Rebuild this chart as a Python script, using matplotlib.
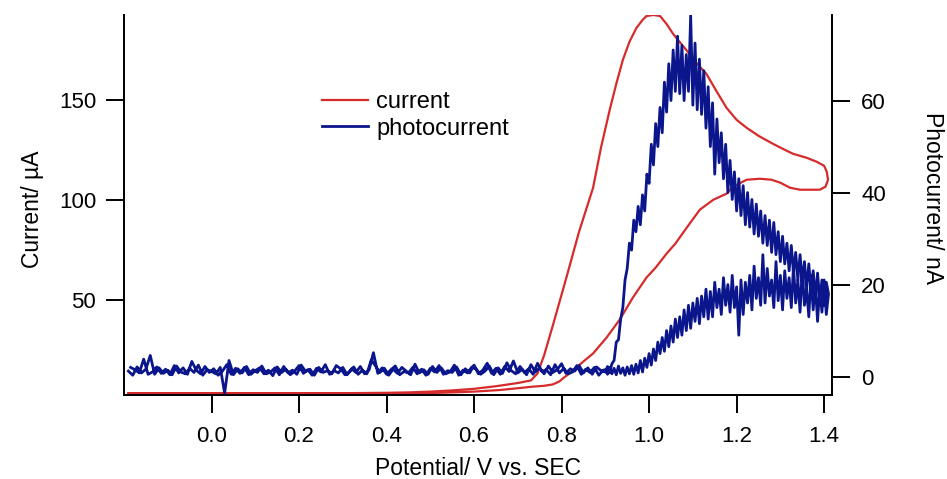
import numpy as np
import matplotlib.pyplot as plt

plt.rcParams['font.family'] = ['Liberation Sans', 'DejaVu Sans']

# cyclic voltammogram (current, uA) - one closed loop
cv_potential = [-0.19, -0.1, 0.0, 0.1, 0.2, 0.3, 0.4, 0.45, 0.5, 0.55, 0.6, 0.65, 0.7, 0.73,
                0.745, 0.76, 0.78, 0.811, 0.84, 0.872, 0.89, 0.91, 0.925, 0.94, 0.955, 0.971,
                0.985, 0.994, 1.01, 1.025, 1.04, 1.055, 1.07, 1.085, 1.11, 1.131, 1.155, 1.177,
                1.2, 1.223, 1.25, 1.283, 1.31, 1.329, 1.36, 1.383, 1.40, 1.406, 1.409, 1.403,
                1.39, 1.36, 1.345, 1.322, 1.30, 1.28, 1.253, 1.223, 1.205, 1.19, 1.177, 1.147,
                1.116, 1.086, 1.06, 1.04, 1.015, 0.994, 0.963, 0.933, 0.903, 0.872, 0.85, 0.834,
                0.815, 0.804, 0.795, 0.78, 0.76, 0.735, 0.70, 0.659, 0.6, 0.55, 0.5, 0.4, 0.3,
                0.2, 0.1, 0.0, -0.1, -0.19]
cv_current = [3.0, 3.0, 3.0, 3.0, 3.0, 3.1, 3.3, 3.5, 3.9, 4.5, 5.3, 6.6, 8.2, 9.5,
              13, 22, 37, 61, 84, 106, 126, 145, 158, 170, 179, 186,
              190, 192, 192.5, 192, 188, 183, 179, 175, 168, 163, 154, 146,
              140, 136, 132, 128, 125, 123, 121, 119, 117, 114, 110, 106.5,
              105, 105, 105, 106, 108.5, 110, 110.5, 110, 108, 106, 103, 100,
              95, 86, 78, 73, 66, 61, 51, 40, 31, 23, 19, 16,
              12.5, 10.7, 9, 7.5, 6.8, 6.4, 5.6, 4.7, 3.9, 3.5, 3.2, 3.0, 2.9,
              2.9, 2.9, 2.9, 2.9, 2.9]

# photocurrent (nA), four sweep segments
pc_base_fwd = [1.2, 0.3, 2.1, 0.8, 1.6, 4.6, 0.5, 1.9, 0.7, 1.4,
               0.4, 2.3, 1.0, 0.6, 1.8, 0.9, 2.5, 0.3, 1.5, 1.1,
               0.6, 2.0, -3.6, 3.5, 0.4, 1.7, 0.8, 2.2, 0.5, 1.3,
               1.9, 0.6, 1.4, 0.2, 2.1, 0.9, 1.6, 0.4, 1.2, 2.4,
               0.7, 1.5, 0.3, 1.8, 1.0, 2.6, 0.5, 1.3, 0.8, 2.0,
               0.4, 1.7, 0.9, 2.2, 0.6, 1.4, 5.2, 0.7, 1.9, 0.5,
               1.5, 2.3, 0.4, 1.1, 0.8, 2.0, 0.6, 1.6, 0.3, 1.8,
               1.0, 2.4, 0.5, 1.3, 0.9, 2.1, 0.4, 1.7, 0.8, 2.5,
               0.6, 1.4, 2.9, 0.7, 1.8, 0.5, 2.2, 1.1, 3.4, 0.8,
               1.6, 0.4, 2.6, 1.0, 1.9, 0.6, 2.3, 0.9, 1.5, 2.8,
               0.7, 1.7, 1.2, 2.4, 0.8, 1.9, 0.5, 2.1, 1.3, 1.0]
pc_peak_fwd = [1.0, 2.2, 0.9, 2.8, 3.5, 7.5, 8.0, 12.5, 15.0, 21.0,
               23.5, 29.0, 27.5, 34.0, 31.5, 37.0, 33.0, 39.5, 36.0, 44.0,
               42.0, 50.5, 46.0, 55.0, 50.0, 58.5, 53.0, 64.0, 57.5, 68.0,
               60.0, 71.0, 62.0, 74.0, 61.5, 72.0, 60.0, 70.0, 62.0, 78.5,
               59.0, 72.5, 58.0, 69.0, 57.0, 66.5, 54.0, 63.0, 50.0, 59.5,
               44.0, 56.0, 46.5, 53.0, 43.0, 50.5, 40.0, 47.0, 38.5, 44.5,
               36.0, 43.0, 35.0, 41.5, 33.0, 40.0, 32.5, 38.5, 31.0, 37.5,
               30.5, 36.0, 29.0, 35.0, 28.5, 34.0, 27.0, 33.5, 26.5, 31.5,
               25.0, 30.5, 24.5, 29.0, 23.0, 28.5, 22.5, 27.0, 21.0, 26.5,
               20.5, 25.0, 19.0, 24.5, 18.5, 23.0, 17.0, 22.5, 16.5, 21.0,
               15.5, 20.5, 18.0]
pc_low_rev = [18.0, 13.5, 21.0, 14.0, 19.5, 12.0, 20.0, 14.5, 22.0, 13.0,
              19.0, 15.5, 23.5, 14.0, 21.0, 16.0, 24.0, 15.0, 21.5, 17.0,
              23.0, 14.5, 22.0, 16.5, 25.0, 15.0, 21.0, 17.5, 23.5, 16.0,
              26.5, 15.5, 21.5, 17.0, 24.0, 14.5, 22.0, 16.0, 20.5, 13.5,
              21.0, 9.0, 19.5, 15.0, 22.0, 14.0, 20.0, 15.5, 21.5, 13.5,
              19.0, 15.0, 20.5, 13.0, 18.5, 12.5, 19.0, 13.0, 17.5, 11.5,
              17.0, 12.0, 16.0, 10.5, 15.5, 10.0, 14.5, 9.0, 13.0, 8.5,
              12.5, 7.5, 11.0, 6.5, 10.0, 5.5, 8.5, 5.0, 7.5, 3.5,
              6.0, 2.5, 5.0, 2.0, 4.0, 1.0, 3.5, 0.8, 2.7, 0.5,
              2.4, 0.6, 2.1, 0.3, 1.9, 0.7, 2.3, 0.4, 1.8, 0.6,
              2.0, 0.5, 1.5]
pc_base_rev = [1.4, 0.3, 2.0, 0.9, 1.6, 0.5, 2.4, 1.0, 0.6, 1.8,
               0.8, 2.6, 0.4, 1.5, 1.1, 2.9, 0.5, 1.7, 0.9, 2.2,
               0.6, 1.3, 3.0, 0.7, 1.9, 0.4, 2.3, 1.2, 0.5, 1.6,
               2.1, 0.8, 1.4, 0.3, 2.5, 1.0, 0.6, 1.9, 0.9, 2.2,
               0.5, 1.5, 0.8, 2.7, 0.4, 1.2, 2.0, 0.7, 1.6, 0.3,
               1.8, 0.9, 2.3, 3.6, 0.6, 1.4, 0.5, 2.1, 1.0, 0.4,
               1.7, 2.4, 0.6, 1.3, 0.9, 2.0, 0.3, 1.6, 1.1, 2.5,
               0.5, 1.4, 0.8, 2.2, 0.4, 1.9, 1.0, 0.6, 2.3, 0.9,
               1.5, 0.4, 2.0, 0.7, 1.8, 0.5, 2.6, 1.2, 0.3, 1.7,
               0.9, 2.2, 0.6, 1.4, 3.3, 0.5, 1.9, 0.8, 2.4, 0.4,
               1.6, 0.7, 2.1, 1.0, 0.5, 3.8, 0.8, 1.5, 2.0]

# sweep segments (start, end potential in V)
pc_segments = [(-0.19, 0.90, pc_base_fwd), (0.90, 1.41, pc_peak_fwd),
               (1.41, 0.90, pc_low_rev), (0.895, -0.185, pc_base_rev)]
pc_potential = np.concatenate([np.linspace(a, b, len(v)) for a, b, v in pc_segments])
pc_current = np.concatenate([v for a, b, v in pc_segments])

red = '#d62b2b'
blue = '#0b168c'

fig = plt.figure(figsize=(9.47, 4.79), dpi=100)
ax = fig.add_axes([124/947, 1 - 395/479, 708/947, 380/479])
ax2 = ax.twinx()

l1, = ax.plot(cv_potential, cv_current, color=red, lw=1.6, label='current')
l2, = ax2.plot(pc_potential, pc_current, color=blue, lw=2.0, label='photocurrent')

ax.set_xlim(-0.2, 1.418)
ax.set_ylim(2.2, 192.5)
ax2.set_ylim(-4.0, 78.6)
ax.set_xticks([0.0, 0.2, 0.4, 0.6, 0.8, 1.0, 1.2, 1.4])
ax.set_yticks([50, 100, 150])
ax2.set_yticks([0, 20, 40, 60])

for a in (ax, ax2):
    a.spines['top'].set_visible(False)
    for s in a.spines.values():
        s.set_linewidth(1.3)
    a.tick_params(direction='out', length=13, width=1.4, labelsize=16, pad=7)
ax.tick_params(axis='x', pad=9)
ax2.tick_params(axis='y', pad=8)

ax.set_xlabel('Potential/ V vs. SEC', fontsize=16.5)
ax.xaxis.set_label_coords(0.5, -0.163)
ax.set_ylabel('Current/ µA', fontsize=16.5)
ax.yaxis.set_label_coords(-0.113, 0.49)
fig.text(932/947, 1 - 198/479, 'Photocurrent/ nA', rotation=-90, fontsize=16.5,
         ha='center', va='center')

ax2.legend([l1, l2], ['current', 'photocurrent'], loc='upper left',
           bbox_to_anchor=(322/947, 1 - 91/479), bbox_transform=fig.transFigure,
           frameon=False, fontsize=17, handlelength=1.95, handletextpad=0.35,
           labelspacing=0.2, borderpad=0, borderaxespad=0)

fig.savefig('out.png', dpi=100)
